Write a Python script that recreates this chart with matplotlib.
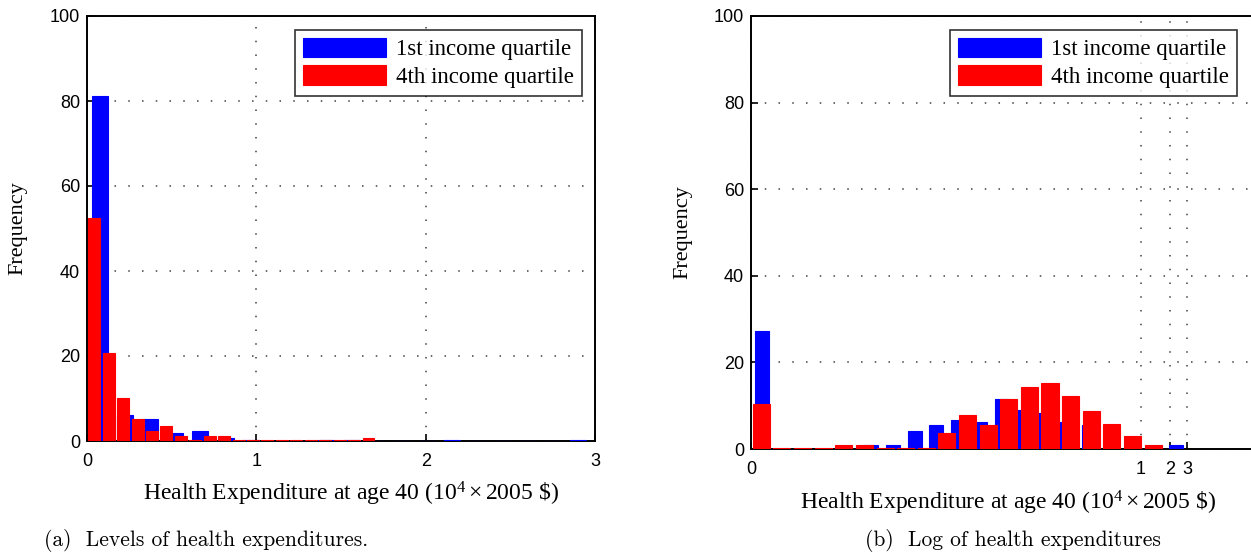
import numpy as np
import matplotlib
matplotlib.use("Agg")
import matplotlib.pyplot as plt

# ---------------- data ----------------
n_bins = 20
q1_max = 2.976      # max health expenditure, 1st income quartile (10^4 2005 $)
q4_max = 1.705      # max health expenditure, 4th income quartile (10^4 2005 $)

# (a) levels: frequency (%) per bin
q1_levels = [81.2, 6.1, 5.2, 1.9, 2.35, 0.7, 0.35, 0.1, 0.1, 0.35,
             0.35, 0.1, 0.1, 0.1, 0.35, 0.1, 0.1, 0.1, 0.1, 0.35]
q4_levels = [52.5, 20.7, 10.1, 5.2, 2.35, 3.5, 1.2, 0.3, 1.2, 1.2,
             0.3, 0.25, 0.25, 0.25, 0.25, 0.25, 0.25, 0.25, 0.25, 0.7]

# (b) logs: frequency (%) per bin
q1_logs = [27.3, 0.1, 0.1, 0.1, 0.1, 0.9, 0.9, 4.2, 5.6, 6.7,
           6.3, 11.6, 9.0, 8.3, 6.3, 5.5, 4.0, 2.0, 0.5, 0.9]
q4_logs = [10.4, 0.3, 0.3, 0.3, 0.9, 0.9, 0.3, 0.3, 0.3, 3.7,
           7.9, 5.6, 11.6, 14.4, 15.3, 12.3, 8.8, 5.8, 3.0, 0.9]

log_tick_values = [1, 2, 3]        # 10^4 2005 $
labels = ["1st income quartile", "4th income quartile"]
xlabel = r"Health Expenditure at age 40 ($10^4\times 2005$ \$)"
ylabel = "Frequency"
captions = ["(a)  Levels of health expenditures.", "(b)  Log of health expenditures"]

# ---------------- style ----------------
BLUE = (0, 0, 1)
RED = (1, 0, 0)
W, H = 1251, 557
fig = plt.figure(figsize=(W / 100, H / 100), dpi=100)
plt.rcParams["mathtext.fontset"] = "custom"
plt.rcParams["mathtext.rm"] = "Liberation Serif"
plt.rcParams["mathtext.it"] = "Liberation Serif:italic"

serif = "Liberation Serif"
sans = "Liberation Sans"


def px_axes(x0, x1, ytop, ybot):
    return fig.add_axes([x0 / W, 1 - ybot / H, (x1 - x0) / W, (ybot - ytop) / H])


def centers(maxval):
    bw = maxval / n_bins
    return (np.arange(n_bins) + 0.5) * bw, bw


def style_axes(ax):
    for s in ax.spines.values():
        s.set_linewidth(1.4)
        s.set_color("black")
        s.set_zorder(1.5)
    ax.tick_params(direction="in", length=5, width=1.2, top=False, right=False,
                   labelsize=13, pad=9, axis="x")
    ax.tick_params(direction="in", length=5, width=1.2, top=False, right=False,
                   labelsize=13, pad=5, axis="y")
    for t in ax.get_xticklabels() + ax.get_yticklabels():
        t.set_fontfamily(sans)
    ax.grid(True, linestyle=(0, (1, 8)), color="0.25", linewidth=1.1)
    ax.set_axisbelow(True)
    ax.set_ylim(0, 100)
    ax.set_yticks([0, 20, 40, 60, 80, 100])


def draw_bars(ax, xb, bwb, hb, xr, bwr, hr):
    ax.bar(xb, hb, width=0.64 * bwb, color=BLUE, edgecolor=BLUE, linewidth=0.8,
           label=labels[0], zorder=2)
    ax.bar(xr, hr, width=0.83 * bwr, color=RED, edgecolor=RED, linewidth=0.8,
           label=labels[1], zorder=3)


def add_legend(ax, right_px, top_px):
    leg = ax.legend(loc="upper right",
                    bbox_to_anchor=(right_px / W, 1 - top_px / H),
                    bbox_transform=fig.transFigure, borderaxespad=0,
                    prop={"family": serif, "size": 16.5}, frameon=True, fancybox=False,
                    handlelength=3.6, handleheight=0.9, handletextpad=0.45,
                    borderpad=0.35, labelspacing=0.22)
    leg.get_frame().set_edgecolor("black")
    leg.get_frame().set_linewidth(1.2)
    leg.set_zorder(10)


# ---------------- (a) levels ----------------
ax1 = px_axes(87, 595, 16, 441)
xb, bwb = centers(q1_max)
xr, bwr = centers(q4_max)
draw_bars(ax1, xb, bwb, q1_levels, xr, bwr, q4_levels)
ax1.set_xlim(0, 3)
ax1.set_xticks([0, 1, 2, 3])
style_axes(ax1)
add_legend(ax1, 582, 30)
ax1.set_ylabel(ylabel, fontfamily=serif, fontsize=16)
ax1.yaxis.set_label_coords(-69 / 508, 0.5)
ax1.yaxis.label.set_va("center")
ax1.set_xlabel(xlabel, fontfamily=serif, fontsize=17)
ax1.xaxis.set_label_coords(0.5 + 10 / 508, -53 / 425)
ax1.xaxis.label.set_va("center")

# ---------------- (b) logs ----------------
ax2 = px_axes(751, 1259, 16, 449)
xb, bwb = centers(np.log(q1_max * 1e4))
xr, bwr = centers(np.log(q4_max * 1e4))
draw_bars(ax2, xb, bwb, q1_logs, xr, bwr, q4_logs)
ax2.set_xlim(0, 12)
ax2.set_xticks([0] + [np.log(v * 1e4) for v in log_tick_values])
ax2.set_xticklabels(["0"] + [str(v) for v in log_tick_values])
style_axes(ax2)
add_legend(ax2, 1237, 30)
ax2.set_ylabel(ylabel, fontfamily=serif, fontsize=16)
ax2.yaxis.set_label_coords(-68 / 508, 0.5)
ax2.yaxis.label.set_va("center")
ax2.set_xlabel(xlabel, fontfamily=serif, fontsize=17)
ax2.xaxis.set_label_coords(0.5 + 3 / 508, -54 / 433)
ax2.xaxis.label.set_va("center")

# ---------------- captions ----------------
fig.text(206 / W, 1 - 541 / H, captions[0], ha="center", va="center",
         fontfamily="cmr10", fontsize=15.5)
fig.text(1013 / W, 1 - 541 / H, captions[1], ha="center", va="center",
         fontfamily="cmr10", fontsize=15.5)

fig.savefig("out.png", dpi=100)
